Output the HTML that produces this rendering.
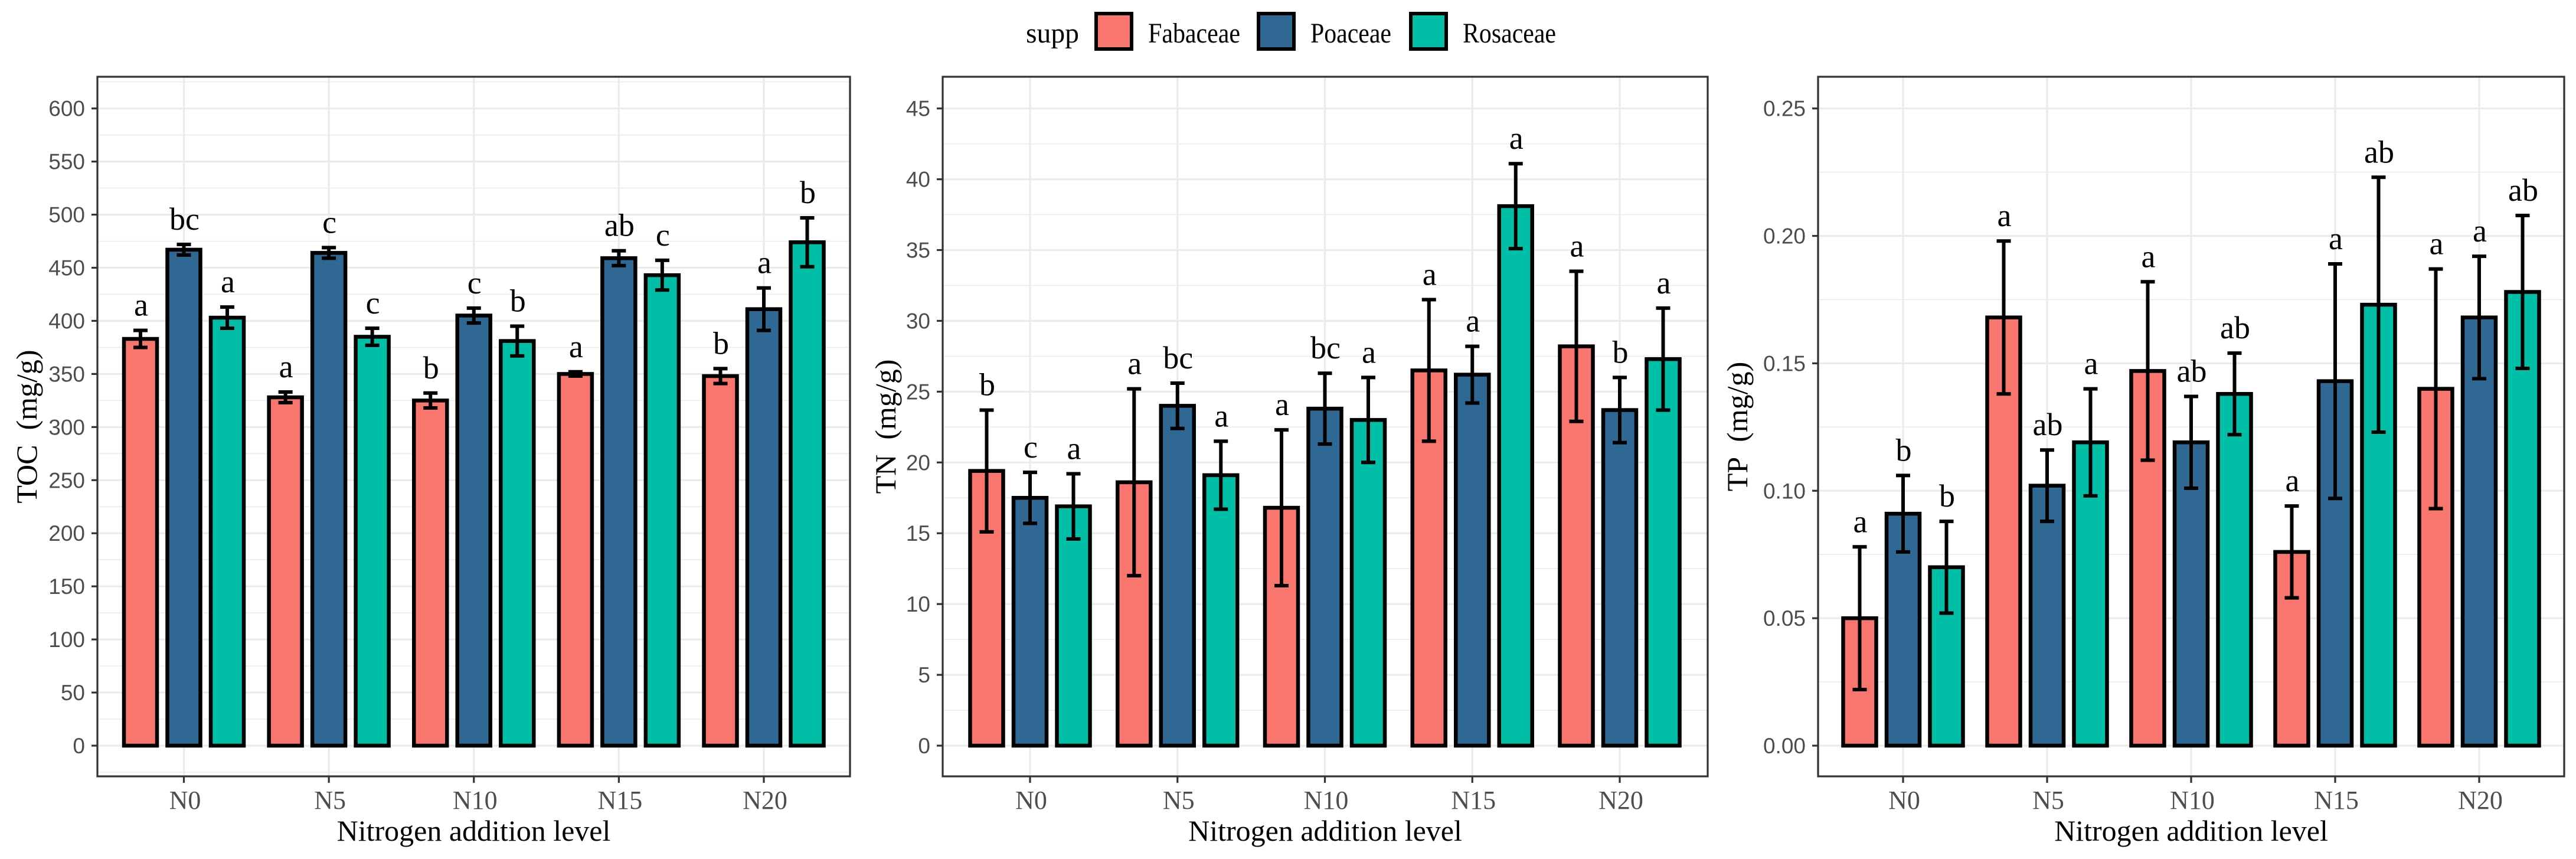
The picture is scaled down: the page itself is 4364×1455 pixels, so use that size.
<!DOCTYPE html>
<html><head><meta charset="utf-8"><style>
html,body{margin:0;padding:0;background:#fff;}
svg{display:block;}
</style></head><body>
<svg id="chart" xmlns="http://www.w3.org/2000/svg" width="4364" height="1455" viewBox="0 0 4364 1455">
<rect x="0" y="0" width="4364" height="1455" fill="#fff"/>
<g font-family="Liberation Serif, serif" font-size="48">
  <text x="1738" y="72" textLength="90" lengthAdjust="spacingAndGlyphs">supp</text>
  <rect x="1857" y="23" width="60" height="60" fill="#F8766D" stroke="#000" stroke-width="6"/>
  <text x="1945" y="72" textLength="156" lengthAdjust="spacingAndGlyphs">Fabaceae</text>
  <rect x="2132" y="23" width="60" height="60" fill="#2E6893" stroke="#000" stroke-width="6"/>
  <text x="2220" y="72" textLength="137" lengthAdjust="spacingAndGlyphs">Poaceae</text>
  <rect x="2390" y="23" width="60" height="60" fill="#00BFA7" stroke="#000" stroke-width="6"/>
  <text x="2478" y="72" textLength="158" lengthAdjust="spacingAndGlyphs">Rosaceae</text>
</g>
</svg>
<script>
const categories = ["N0","N5","N10","N15","N20"];
const seriesNames = ["Fabaceae","Poaceae","Rosaceae"];
const tocFab = [383,328,325,350,348];
const tocFabErr = [8,5,7,2,7];
const tocPoa = [467,464,405,459,411];
const tocPoaErr = [5,5,7,7,20];
const tocRos = [403,385,381,443,474];
const tocRosErr = [10,8,14,14,23];
const tocLetters = [["a","a","b","a","b"],["bc","c","c","ab","a"],["a","c","b","c","b"]];
const tocTicks = ["0","50","100","150","200","250","300","350","400","450","500","550","600"];
const tnFab = [19.4,18.6,16.8,26.5,28.2];
const tnFabErr = [4.3,6.6,5.5,5.0,5.3];
const tnPoa = [17.5,24.0,23.8,26.2,23.7];
const tnPoaErr = [1.8,1.6,2.5,2.0,2.3];
const tnRos = [16.9,19.1,23.0,38.1,27.3];
const tnRosErr = [2.3,2.4,3.0,3.0,3.6];
const tnLetters = [["b","a","a","a","a"],["c","bc","bc","a","b"],["a","a","a","a","a"]];
const tnTicks = ["0","5","10","15","20","25","30","35","40","45"];
const tpFab = [0.050,0.168,0.147,0.076,0.140];
const tpFabErr = [0.028,0.030,0.035,0.018,0.047];
const tpPoa = [0.091,0.102,0.119,0.143,0.168];
const tpPoaErr = [0.015,0.014,0.018,0.046,0.024];
const tpRos = [0.070,0.119,0.138,0.173,0.178];
const tpRosErr = [0.018,0.021,0.016,0.050,0.030];
const tpLetters = [["a","a","a","a","a"],["b","ab","ab","a","a"],["b","a","ab","ab","ab"]];
const tpTicks = ["0.00","0.05","0.10","0.15","0.20","0.25"];

const colors = ["#F8766D","#2E6893","#00BFA7"];
const NS = "http://www.w3.org/2000/svg";
const svg = document.getElementById("chart");
function mk(tag, attrs, parent){const e=document.createElementNS(NS,tag);for(const k in attrs)e.setAttribute(k,attrs[k]);(parent||svg).appendChild(e);return e;}

function panel(cfg){
  const g = mk("g",{});
  
  
  const L=cfg.left,R=cfg.right,T=130,B=1315;
  const y0=1263,yTop=183.7;
  const tmax=parseFloat(cfg.ticks[cfg.ticks.length-1]);
  const ys=v=>y0-(v/tmax)*(y0-yTop);
  const step=(cfg.x20-cfg.x0)/4;
  const xs=i=>cfg.x0+i*step;
  const minorStep=parseFloat(cfg.ticks[1])/2;
  for(let v=-minorStep; v<=tmax+minorStep*1.01; v+=minorStep*2){
    const y=ys(v); if(y<T||y>B) continue;
    const l=mk("line",{x1:L,x2:R,y1:y,y2:y,stroke:"#EBEBEB","stroke-width":1.6},g);
    
    
  }
  cfg.ticks.forEach(t=>{
    const y=ys(parseFloat(t));
    const l=mk("line",{x1:L,x2:R,y1:y,y2:y,stroke:"#EBEBEB","stroke-width":3.2},g);
    
    
    const tk=mk("line",{x1:L-10,x2:L,y1:y,y2:y,stroke:"#333","stroke-width":3.2},g);
    
    
    const tx=mk("text",{x:L-21,y:y+13,"text-anchor":"end","font-family":"Liberation Sans, sans-serif","font-size":37,fill:"#4D4D4D"},g);
    tx.textContent=t;
    
    
  });
  categories.forEach((c,i)=>{
    const x=xs(i);
    const l=mk("line",{x1:x,x2:x,y1:T,y2:B,stroke:"#EBEBEB","stroke-width":3.2},g);
    
    
    const tk=mk("line",{x1:x,x2:x,y1:B,y2:B+11,stroke:"#333","stroke-width":3.2},g);
    
    
    const tx=mk("text",{x:x+2,y:1370,"text-anchor":"middle","font-family":"Liberation Serif, serif","font-size":44,fill:"#4D4D4D"},g);
    tx.textContent=c;
    
    
  });
  const off=73.5, bw=56;
  cfg.series.forEach((s,si)=>{
    categories.forEach((c,i)=>{
      const cx=xs(i)+(si-1)*off;
      const v=s.vals[i], e=s.errs[i];
      const yt=ys(v);
      const r=mk("rect",{x:cx-bw/2,y:yt,width:bw,height:y0-yt,fill:colors[si],stroke:"#000","stroke-width":6.5},g);
      
      
      const eh=ys(v+e), el=ys(v-e);
      const eg=mk("g",{stroke:"#000","stroke-width":6},g);
      
      
      mk("line",{x1:cx,x2:cx,y1:eh,y2:el},eg);
      mk("line",{x1:cx-12,x2:cx+12,y1:eh,y2:eh},eg);
      mk("line",{x1:cx-12,x2:cx+12,y1:el,y2:el},eg);
      const lt=mk("text",{x:cx+1,y:eh-25,"text-anchor":"middle","font-family":"Liberation Serif, serif","font-size":54,fill:"#000"},g);
      lt.textContent=s.letters[i];
      
      
    });
  });
  const bx=mk("rect",{x:L,y:T,width:R-L,height:B-T,fill:"none",stroke:"#333","stroke-width":3.2},g);
  
  
  const xt=mk("text",{x:(L+R)/2,y:1424,"text-anchor":"middle","font-family":"Liberation Serif, serif","font-size":50,fill:"#000"},g);
  xt.textContent="Nitrogen addition level";
  
  
  const yc=(T+B)/2;
  const yt=mk("text",{x:0,y:0,"text-anchor":"middle","font-family":"Liberation Serif, serif","font-size":50,fill:"#000",transform:"translate("+(cfg.ytx+17)+","+yc+") rotate(-90)"},g);
  yt.textContent=cfg.title;
  
  
}
panel({id:"toc",left:165,right:1440,x0:311.5,x20:1294,ticks:tocTicks,title:"TOC\u2002(mg/g)",ytx:45,
  series:[{vals:tocFab,errs:tocFabErr,letters:tocLetters[0]},{vals:tocPoa,errs:tocPoaErr,letters:tocLetters[1]},{vals:tocRos,errs:tocRosErr,letters:tocLetters[2]}]});
panel({id:"tn",left:1597,right:2893,x0:1745,x20:2744,ticks:tnTicks,title:"TN\u2002(mg/g)",ytx:1500,
  series:[{vals:tnFab,errs:tnFabErr,letters:tnLetters[0]},{vals:tnPoa,errs:tnPoaErr,letters:tnLetters[1]},{vals:tnRos,errs:tnRosErr,letters:tnLetters[2]}]});
panel({id:"tp",left:3080,right:4344,x0:3224,x20:4200,ticks:tpTicks,title:"TP\u2002(mg/g)",ytx:2943,
  series:[{vals:tpFab,errs:tpFabErr,letters:tpLetters[0]},{vals:tpPoa,errs:tpPoaErr,letters:tpLetters[1]},{vals:tpRos,errs:tpRosErr,letters:tpLetters[2]}]});
</script>
</body></html>
